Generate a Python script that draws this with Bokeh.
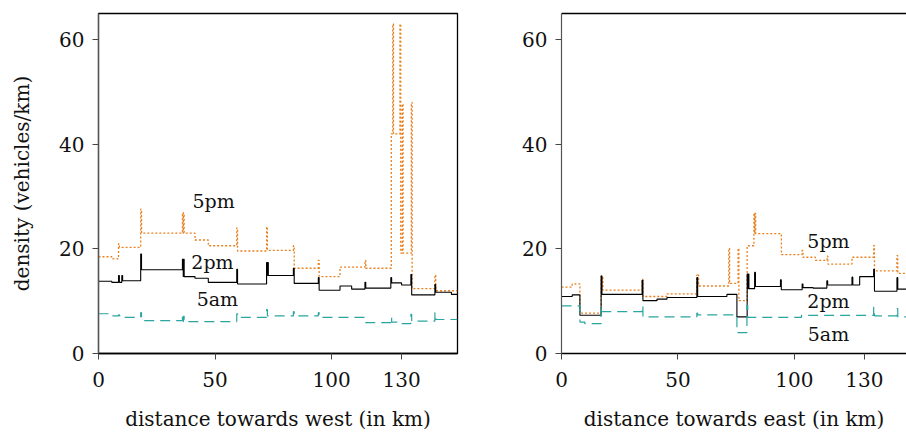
import numpy as np
from bokeh.plotting import figure
from bokeh.layouts import row
from bokeh.models import FixedTicker, LinearAxis, Range1d, ColumnDataSource
from bokeh.core.properties import value
from bokeh.embed import file_html
from bokeh.resources import INLINE

# ---------------- data: towards west ----------------
west_2pm_edges = [0, 5.7, 10, 18.1, 36, 41.4, 47.1, 59.3, 72.1, 83.6, 94.3, 103.6, 108.6, 114.3, 125.4, 130, 134, 144.3, 151.4, 154]
west_2pm_vals = [13.8, 13.6, 13.9, 16.0, 14.7, 14.4, 13.6, 13.3, 14.9, 13.4, 12.1, 12.9, 12.3, 12.5, 13.5, 13.1, 11.2, 11.7, 11.3]
west_2pm_spike_x = [8.6, 10, 18.1, 36, 36.4, 59.3, 72.1, 72.5, 83.6, 94.3, 114.3, 125.4, 134, 144.3]
west_2pm_spike_top = [14.9, 14.9, 19.0, 18.0, 18.0, 16.1, 17.4, 17.4, 16.3, 14.5, 13.6, 14.5, 15.1, 13.2]

west_5pm_edges = [0, 5.7, 8.6, 18.1, 41.4, 47.1, 59.3, 72.1, 83.6, 94.3, 103.6, 114.3, 125.6, 129.3, 134.2, 144.3, 154]
west_5pm_vals = [18.5, 18.1, 20.3, 23.0, 21.7, 20.6, 19.6, 19.7, 16.3, 14.7, 16.5, 16.3, 42.0, 19.2, 12.4, 12.0]
west_5pm_spike_x = [8.6, 18.1, 36, 36.4, 59.3, 72.1, 83.6, 94.3, 114.3, 126.2, 129.3, 130.3, 134.2, 144.3]
west_5pm_spike_top = [21.0, 27.6, 26.9, 26.9, 24.0, 24.2, 20.6, 17.8, 17.8, 63.0, 63.0, 47.7, 48.0, 15.0]

west_5am_edges = [0, 5.7, 10, 18.1, 36, 59.3, 72.1, 83.6, 94.3, 114.3, 125.4, 130, 134, 144.3, 154]
west_5am_vals = [7.6, 7.2, 6.9, 6.3, 6.1, 6.9, 7.2, 7.2, 6.9, 5.9, 6.0, 5.7, 6.2, 6.5]
west_5am_spike_x = [8.6, 18.1, 36, 36.4, 59.3, 72.1, 83.6, 94.3, 125.4, 134, 144.3]
west_5am_spike_top = [7.4, 7.8, 7.1, 7.1, 7.6, 8.4, 8.0, 7.8, 6.9, 7.5, 7.8]

# ---------------- data: towards east ----------------
east_2pm_edges = [0, 4.6, 7.9, 17, 34.6, 41, 45.3, 58.1, 71, 75.3, 79.7, 82.9, 94, 103.3, 108, 113.9, 128, 134, 144, 155]
east_2pm_vals = [10.9, 11.2, 7.3, 11.3, 10.1, 10.4, 10.7, 10.9, 11.3, 7.0, 12.4, 12.8, 12.2, 12.6, 12.5, 13.1, 14.7, 11.9, 12.3]
east_2pm_spike_x = [17, 34.6, 58.1, 79.7, 80.1, 82.9, 94, 103.3, 113.9, 124.7, 134, 144]
east_2pm_spike_top = [14.8, 14.0, 14.5, 15.2, 15.2, 15.5, 14.1, 13.3, 13.9, 14.6, 16.1, 14.5]

east_5pm_edges = [0, 4.6, 7.9, 17, 34.6, 45.3, 58.1, 71.8, 75.8, 79.7, 82.6, 94.4, 103.3, 109, 114, 124.7, 134, 144, 155]
east_5pm_vals = [12.7, 13.3, 7.7, 12.1, 10.9, 11.4, 12.9, 13.4, 10.1, 20.6, 22.9, 18.9, 18.4, 17.8, 17.1, 18.4, 15.8, 15.3]
east_5pm_spike_x = [17, 17.4, 34.6, 58.1, 58.5, 71.8, 75.8, 82.6, 83.0, 103.3, 114, 134, 144]
east_5pm_spike_top = [14.8, 14.8, 14.2, 15.0, 15.0, 20.1, 20.1, 26.8, 26.8, 19.7, 18.6, 20.6, 18.7]

east_5am_edges = [0, 7.9, 10, 17, 34.6, 58.1, 75.3, 79.6, 103, 134, 144, 155]
east_5am_vals = [9.1, 6.0, 5.7, 8.0, 7.0, 7.4, 4.0, 6.9, 7.3, 7.2, 7.0]
east_5am_spike_x = [17, 34.6, 58.1, 79.6, 134, 144]
east_5am_spike_top = [9.0, 9.1, 7.7, 9.2, 8.8, 8.6]

series_names = ["5pm", "2pm", "5am"]
west_label_x = [49.4, 48.9, 51.0]
west_label_y = [29.1, 17.4, 10.5]
east_label_x = [114.6, 114.6, 114.6]
east_label_y = [21.6, 10.1, 3.8]

y_ticks = [0, 20, 40, 60]
x_ticks = [0, 50, 100, 130]

ORANGE = "#e8801e"
TEAL = "#2aa5a0"
FONT = "DejaVu Serif"
SPIKE_W = 0.35


def step_path(edges, vals, sx, st):
    bps = sorted(set(list(edges) + list(sx) + [s + SPIKE_W for s in sx]))
    bps = [b for b in bps if edges[0] <= b <= edges[-1]]
    xs, ys = [], []
    for a, b in zip(bps[:-1], bps[1:]):
        m = 0.5 * (a + b)
        v = None
        for s, t in zip(sx, st):
            if s <= m <= s + SPIKE_W:
                v = t
        if v is None:
            i = np.searchsorted(edges, m) - 1
            i = min(max(i, 0), len(vals) - 1)
            v = vals[i]
        xs += [a, b]
        ys += [v, v]
    return xs, ys


def style(p):
    p.xgrid.visible = False
    p.ygrid.visible = False
    p.toolbar.logo = None
    for ax in p.xaxis + p.yaxis:
        ax.major_label_text_font = FONT
        ax.major_label_text_font_size = "20px"
        ax.major_label_text_color = "#111111"
        ax.axis_label_text_font = FONT
        ax.axis_label_text_font_style = "normal"
        ax.axis_label_text_font_size = "20px"
        ax.axis_label_text_color = "#111111"
        ax.major_tick_in = 0
        ax.major_tick_out = 6
        ax.minor_tick_line_color = None
        ax.major_tick_line_color = "#444444"
    p.xaxis.ticker = FixedTicker(ticks=x_ticks)
    p.yaxis.ticker = FixedTicker(ticks=y_ticks)
    p.xaxis.axis_line_width = 1.6
    p.xaxis.axis_line_color = "black"
    p.yaxis.axis_line_color = "#555555"
    p.yaxis.axis_line_width = 1.2
    p.xaxis.major_label_standoff = 12
    p.yaxis.major_label_standoff = 8


def draw(p, data, lx, ly):
    specs = [
        (data[0], ORANGE, "2 2", 1.3),
        (data[1], "black", "solid", 1.1),
        (data[2], TEAL, "10 6", 1.2),
    ]
    for (e, v, sx, st), col, dash, lw in specs:
        xs, ys = step_path(e, v, sx, st)
        p.line(xs, ys, line_color=col, line_dash=dash, line_width=lw)
    src = ColumnDataSource(dict(x=lx, y=ly, t=series_names))
    p.text("x", "y", text="t", source=src, text_font=value(FONT),
           text_font_size="19px", text_align="center", text_baseline="middle",
           text_color="#111111")


left = figure(width=467, height=434, output_backend="svg", toolbar_location=None,
              x_range=Range1d(0, 154), y_range=Range1d(0, 65),
              min_border_left=98, min_border_right=10, min_border_top=13, min_border_bottom=81,
              x_axis_label="distance towards west (in km)",
              y_axis_label="density (vehicles/km)")
style(left)
left.outline_line_color = "black"
left.outline_line_width = 1.3
left.xaxis.axis_label_standoff = 17
left.yaxis.axis_label_standoff = 22
draw(left, [
    (west_5pm_edges, west_5pm_vals, west_5pm_spike_x, west_5pm_spike_top),
    (west_2pm_edges, west_2pm_vals, west_2pm_spike_x, west_2pm_spike_top),
    (west_5am_edges, west_5am_vals, west_5am_spike_x, west_5am_spike_top),
], west_label_x, west_label_y)

right = figure(width=439, height=434, output_backend="svg", toolbar_location=None,
               x_range=Range1d(0, 148.1), y_range=Range1d(0, 65),
               min_border_left=94, min_border_right=0, min_border_top=13, min_border_bottom=81,
               x_axis_label="distance towards east (in km)")
style(right)
right.outline_line_color = None
right.xaxis.axis_label_standoff = 17
top_ax = LinearAxis(ticker=FixedTicker(ticks=[]), major_label_text_font_size="0px",
                    major_tick_line_color=None, minor_tick_line_color=None,
                    axis_line_color="black", axis_line_width=1.3,
                    major_label_standoff=0)
right.add_layout(top_ax, "above")
draw(right, [
    (east_5pm_edges, east_5pm_vals, east_5pm_spike_x, east_5pm_spike_top),
    (east_2pm_edges, east_2pm_vals, east_2pm_spike_x, east_2pm_spike_top),
    (east_5am_edges, east_5am_vals, east_5am_spike_x, east_5am_spike_top),
], east_label_x, east_label_y)

layout = row(left, right)
open("out.html", "w").write(file_html(layout, INLINE))
